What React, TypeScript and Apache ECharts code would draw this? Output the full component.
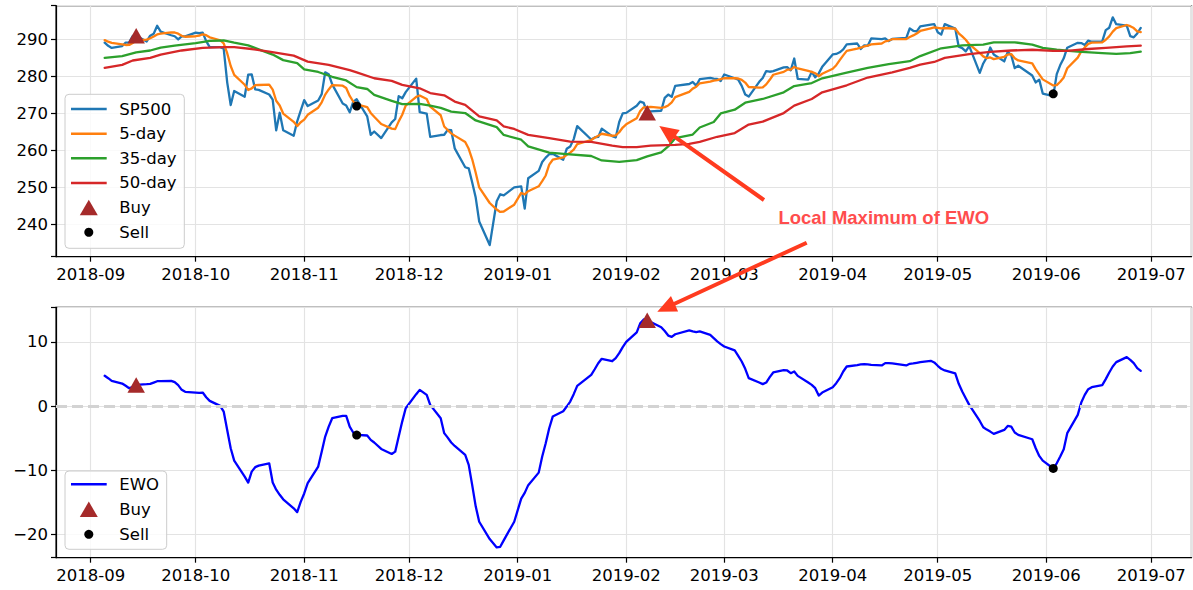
import React, { useEffect, useRef } from 'react';
import * as echarts from 'echarts';

// ---------------- data ----------------
const tradingDays: [string, number[]][] = [
  ['2018-09', [5, 6, 7, 10, 11, 12, 13, 14, 17, 18, 19, 20, 21, 24, 25, 26, 27, 28]],
  ['2018-10', [1, 2, 3, 4, 5, 8, 9, 10, 11, 12, 15, 16, 17, 18, 19, 22, 23, 24, 25, 26, 29, 30, 31]],
  ['2018-11', [1, 2, 5, 6, 7, 8, 9, 12, 13, 14, 15, 16, 19, 20, 21, 23, 26, 27, 28, 29, 30]],
  ['2018-12', [3, 4, 6, 7, 10, 11, 12, 13, 14, 17, 18, 19, 20, 21, 24, 26, 27, 28, 31]],
  ['2019-01', [2, 3, 4, 7, 8, 9, 10, 11, 14, 15, 16, 17, 18, 22, 23, 24, 25, 28, 29, 30, 31]],
  ['2019-02', [1, 4, 5, 6, 7, 8, 11, 12, 13, 14, 15, 19, 20, 21, 22, 25, 26, 27, 28]],
  ['2019-03', [1, 4, 5, 6, 7, 8, 11, 12, 13, 14, 15, 18, 19, 20, 21, 22, 25, 26, 27, 28, 29]],
  ['2019-04', [1, 2, 3, 4, 5, 8, 9, 10, 11, 12, 15, 16, 17, 18, 22, 23, 24, 25, 26, 29, 30]],
  ['2019-05', [1, 2, 3, 6, 7, 8, 9, 10, 13, 14, 15, 16, 17, 20, 21, 22, 23, 24, 28, 29, 30, 31]],
  ['2019-06', [3, 4, 5, 6, 7, 10, 11, 12, 13, 14, 17, 18, 19, 20, 21, 24, 25, 26, 27, 28]],
];
const dates: string[] = tradingDays.flatMap(([m, ds]) => ds.map((d) => `${m}-${String(d).padStart(2, '0')}`));

const sp500 = [
  289.03, 288.16, 287.6, 288.1, 289.05, 289.12, 290.83, 290.88, 289.34, 290.91, 291.44, 293.58, 291.99, 291.02, 290.75, 289.88, 290.69, 290.72,
  291.73, 291.56, 291.72, 289.44, 287.82, 287.82, 287.4, 278.3, 272.17, 275.95, 274.4, 280.4, 280.45, 276.4, 276.25, 275.01, 273.61, 265.32, 270.08, 265.33, 263.86, 267.77, 270.63,
  273.51, 271.89, 273.39, 275.12, 281.01, 280.5, 277.76, 272.57, 272.06, 270.2, 273.02, 273.73, 269.1, 264.12, 265.02, 263.25, 267.5, 268.4, 274.58, 273.98, 275.65,
  279.3, 270.25, 269.84, 263.57, 264.07, 264.13, 265.46, 265.37, 260.47, 255.36, 255.08, 251.26, 247.17, 240.7, 234.34, 246.18, 248.07, 247.75, 249.92,
  250.18, 244.21, 252.39, 254.38, 256.77, 257.97, 258.88, 258.98, 257.4, 260.35, 260.98, 262.96, 266.46, 262.86, 263.41, 263.55, 265.78, 263.76, 263.41, 267.58, 269.93,
  270.06, 271.96, 273.1, 272.74, 270.14, 270.47, 270.62, 274.1, 274.99, 274.38, 277.37, 277.85, 278.41, 277.42, 279.14, 279.52, 279.32, 279.2, 278.68,
  280.42, 279.4, 279.02, 277.33, 275.01, 274.46, 278.44, 279.49, 281.34, 281.16, 281.31, 282.33, 282.4, 281.55, 284.73, 279.25, 279.04, 281.12, 279.65, 280.71, 282.48,
  285.83, 285.97, 286.42, 287.18, 288.57, 288.79, 287.31, 288.29, 288.21, 290.16, 289.97, 290.16, 289.45, 290.02, 290.27, 292.88, 292.23, 292.05, 293.41, 293.87, 294.02,
  291.81, 291.18, 294.03, 292.82, 287.93, 287.53, 286.66, 288.1, 280.86, 283.4, 285.06, 287.7, 285.84, 283.95, 286.51, 285.63, 282.14, 282.78, 280.15, 278.27, 279.03, 275.27,
  274.57, 280.53, 282.96, 284.8, 287.65, 288.97, 288.9, 288.39, 289.58, 289.26, 289.37, 292.4, 293.06, 295.86, 294.0, 293.64, 290.76, 290.47, 291.5, 293.0,
];

const ma5 = [
  289.71, 289.27, 288.98, 288.54, 288.39, 288.41, 288.94, 289.6, 289.84, 290.22, 290.68, 291.23, 291.45, 291.79, 291.76, 291.44, 290.87, 290.61,
  290.75, 290.92, 291.28, 291.03, 290.45, 289.67, 288.84, 286.16, 282.7, 280.33, 277.64, 276.24, 276.67, 277.52, 277.58, 277.7, 276.34, 273.32, 272.05, 269.87, 267.64, 266.47, 267.53,
  268.22, 269.53, 271.44, 272.91, 274.98, 276.38, 277.56, 277.39, 276.78, 274.62, 273.12, 272.32, 271.62, 270.03, 269.0, 267.04, 265.8, 265.66, 267.75, 269.54, 272.02,
  274.38, 274.75, 273.8, 271.72, 269.41, 266.37, 265.41, 264.52, 263.9, 262.16, 260.35, 257.51, 253.87, 249.91, 245.71, 243.93, 243.29, 243.41, 245.25,
  248.42, 248.03, 248.89, 250.22, 251.59, 253.14, 256.08, 257.4, 258.0, 258.72, 259.32, 260.13, 261.63, 262.72, 263.33, 263.85, 264.41, 263.87, 263.98, 264.82, 266.09,
  266.95, 268.59, 270.53, 271.56, 271.6, 271.68, 271.41, 271.61, 272.06, 272.91, 274.29, 275.74, 276.6, 277.09, 278.04, 278.47, 278.76, 278.92, 279.17,
  279.43, 279.4, 279.34, 278.97, 278.24, 277.04, 276.85, 276.95, 277.75, 278.98, 280.35, 281.13, 281.71, 281.75, 282.46, 282.05, 281.39, 281.14, 280.76, 279.95, 280.6,
  281.96, 282.93, 284.28, 285.58, 286.79, 287.39, 287.65, 288.03, 288.23, 288.55, 288.79, 289.36, 289.59, 289.95, 289.97, 290.56, 290.97, 291.49, 292.17, 292.89, 293.12,
  293.03, 292.86, 292.98, 292.77, 291.55, 290.7, 289.79, 288.61, 286.22, 285.31, 284.82, 285.02, 284.57, 285.19, 285.81, 285.93, 284.81, 284.2, 283.44, 281.79, 280.47, 279.1,
  277.46, 277.53, 278.47, 279.63, 282.1, 284.98, 286.66, 287.74, 288.7, 289.02, 289.1, 289.8, 290.73, 291.99, 292.94, 293.79, 293.46, 292.95, 292.07, 291.87,
];

const ewo = [
  4.73, 4.36, 3.95, 3.53, 3.17, 2.8, 2.96, 3.32, 3.43, 3.48, 3.68, 3.89, 3.89, 3.95, 3.74, 3.27, 2.54, 2.23,
  2.12, 2.07, 2.12, 1.4, 0.83, 0.05, -0.84, -3.7, -6.55, -8.48, -10.98, -11.9, -10.2, -9.5, -9.26, -8.9, -11.9, -13.0, -13.8, -14.5, -15.9, -16.5, -14.9,
  -13.6, -12.0, -9.4, -7.1, -4.74, -3.18, -1.88, -1.51, -1.5, -3.18, -4.1, -4.47, -4.57, -5.25, -5.66, -6.66, -7.44, -7.08, -4.74, -2.4, -0.32,
  1.87, 2.54, 1.76, 0.2, -1.88, -4.2, -4.9, -5.66, -6.2, -7.6, -9.15, -12.3, -15.6, -18.0, -20.7, -22.0, -21.9, -20.9, -18.0,
  -14.4, -13.5, -12.3, -10.35, -7.85, -5.78, -3.44, -1.62, -0.79, -0.06, 0.72, 1.87, 3.17, 4.87, 5.75, 6.69, 7.38, 7.0, 7.48, 8.26, 9.2,
  10.0, 11.5, 12.9, 13.5, 13.6, 13.1, 12.3, 11.7, 11.0, 10.8, 11.2, 11.8, 11.64, 11.54, 11.64, 11.1, 10.6, 10.1, 9.67,
  9.3, 8.68, 7.85, 6.96, 5.82, 4.36, 3.68, 3.43, 3.68, 4.52, 5.25, 5.6, 5.56, 5.14, 5.4, 4.72, 3.68, 3.32, 2.8, 1.65, 2.12,
  2.96, 3.58, 4.36, 5.4, 6.18, 6.39, 6.5, 6.55, 6.5, 6.44, 6.34, 6.7, 6.7, 6.65, 6.34, 6.6, 6.65, 6.75, 6.86, 7.07, 6.81,
  6.29, 5.82, 5.56, 5.1, 3.48, 2.28, 1.24, 0.2, -2.3, -3.28, -3.65, -3.96, -4.32, -3.7, -3.07, -3.18, -4.1, -4.47, -5.15, -6.55, -7.75, -8.48,
  -9.7, -8.9, -7.85, -6.7, -4.2, -1.36, 0.56, 1.76, 2.65, 2.96, 3.27, 4.21, 5.25, 6.18, 6.86, 7.64, 7.22, 6.7, 5.92, 5.5,
];

const ma35Dates = [
  '2018-09-05', '2018-09-10', '2018-09-14', '2018-09-18', '2018-09-21', '2018-09-25', '2018-10-01', '2018-10-05', '2018-10-09', '2018-10-12',
  '2018-10-16', '2018-10-19', '2018-10-23', '2018-10-26', '2018-10-30', '2018-11-01', '2018-11-05', '2018-11-09', '2018-11-13', '2018-11-16',
  '2018-11-19', '2018-11-21', '2018-11-26', '2018-11-29', '2018-12-04', '2018-12-07', '2018-12-10', '2018-12-13', '2018-12-17', '2018-12-20',
  '2018-12-26', '2018-12-28', '2019-01-02', '2019-01-04', '2019-01-10', '2019-01-15', '2019-01-22', '2019-01-25', '2019-01-30', '2019-02-04',
  '2019-02-07', '2019-02-11', '2019-02-13', '2019-02-15', '2019-02-20', '2019-02-22', '2019-02-26', '2019-02-28', '2019-03-04', '2019-03-07',
  '2019-03-12', '2019-03-18', '2019-03-21', '2019-03-26', '2019-03-29', '2019-04-05', '2019-04-11', '2019-04-17', '2019-04-23', '2019-04-26',
  '2019-05-02', '2019-05-08', '2019-05-14', '2019-05-17', '2019-05-23', '2019-05-28', '2019-05-31', '2019-06-04', '2019-06-10', '2019-06-17',
  '2019-06-21', '2019-06-25', '2019-06-28',
];
const ma35 = [
  284.9, 285.4, 286.4, 286.9, 287.7, 288.2, 288.9, 289.5, 289.6, 289.0,
  288.3, 287.2, 285.8, 284.3, 283.5, 281.8, 281.1, 279.8, 278.8, 277.0,
  276.5, 274.9, 273.3, 272.4, 272.5, 272.0, 271.4, 270.4, 270.0, 268.0,
  266.2, 264.1, 262.8, 261.0, 259.3, 258.9, 258.4, 257.2, 256.8, 257.3,
  258.3, 259.4, 261.0, 263.2, 264.2, 266.1, 267.6, 269.9, 270.9, 272.8,
  273.8, 275.6, 277.3, 278.1, 279.4, 280.9, 282.2, 283.2, 284.0, 285.4,
  287.5, 288.3, 288.5, 289.1, 289.1, 288.5, 287.6, 287.1, 286.6, 286.2,
  286.0, 286.2, 286.6,
];

const ma50Dates = [
  '2018-09-05', '2018-09-10', '2018-09-13', '2018-09-18', '2018-09-21', '2018-09-27', '2018-10-03', '2018-10-09', '2018-10-12', '2018-10-17',
  '2018-10-22', '2018-10-29', '2018-11-02', '2018-11-08', '2018-11-14', '2018-11-16', '2018-11-21', '2018-11-26', '2018-11-29', '2018-12-04',
  '2018-12-07', '2018-12-11', '2018-12-14', '2018-12-17', '2018-12-21', '2018-12-26', '2018-12-28', '2018-12-31', '2019-01-04', '2019-01-10',
  '2019-01-16', '2019-01-22', '2019-01-28', '2019-01-31', '2019-02-04', '2019-02-08', '2019-02-15', '2019-02-19', '2019-02-22', '2019-02-27',
  '2019-03-04', '2019-03-08', '2019-03-12', '2019-03-18', '2019-03-21', '2019-03-26', '2019-03-29', '2019-04-05', '2019-04-11', '2019-04-18',
  '2019-04-23', '2019-04-26', '2019-04-30', '2019-05-03', '2019-05-10', '2019-05-16', '2019-05-22', '2019-05-28', '2019-06-03', '2019-06-07',
  '2019-06-13', '2019-06-18', '2019-06-24', '2019-06-28',
];
const ma50 = [
  282.2, 283.0, 284.2, 284.9, 285.8, 286.9, 287.6, 287.8, 287.8, 287.3,
  286.6, 285.5, 283.9, 283.0, 281.6, 281.0, 279.4, 278.7, 277.6, 276.7,
  275.4, 274.8, 273.1, 272.2, 269.1, 268.0, 266.4, 265.7, 264.1, 263.2,
  262.3, 262.2, 261.2, 260.8, 260.8, 261.2, 261.4, 261.7, 262.2, 263.6,
  264.6, 266.9, 267.7, 270.0, 272.0, 273.8, 275.6, 277.5, 279.6, 281.0,
  282.2, 283.1, 283.8, 284.9, 285.9, 286.5, 286.9, 287.1, 286.8, 286.8,
  287.3, 287.6, 288.0, 288.2,
];

const buyDates = ['2018-09-14', '2019-02-07'];
const buyPrice = [290.9, 270.1];
const buyEwo = [3.3, 13.4];
const sellDates = ['2018-11-16', '2019-06-03'];
const sellPrice = [271.9, 275.2];
const sellEwo = [-4.5, -9.7];

const topLegendNames = ['SP500', '5-day', '35-day', '50-day', 'Buy', 'Sell'];
const bottomLegendNames = ['EWO', 'Buy', 'Sell'];

// ---------------- styling ----------------
const FONT = 'DejaVu Sans';
const C_SP = '#1f77b4';
const C_MA5 = '#ff7f0e';
const C_MA35 = '#2ca02c';
const C_MA50 = '#d62728';
const C_EWO = '#0000ff';
const C_BUY = '#a52a2a';
const C_SELL = '#000000';

function monthLabel(v: number): string {
  const d = new Date(v);
  if (d.getDate() !== 1 || d.getHours() !== 0 || d.getMinutes() !== 0) return '';
  return `${d.getFullYear()}-${String(d.getMonth() + 1).padStart(2, '0')}`;
}
function yLabel(step: number) {
  return (v: number) => {
    const r = Math.round(v / step) * step;
    if (Math.abs(r - v) > 1e-6) return '';
    return r < 0 ? '\u2212' + Math.abs(r) : String(r);
  };
}
function arrowPoints(tail: number[], tip: number[], half = 2, headLen = 19, headHalf = 8.5) {
  const dx = tip[0] - tail[0];
  const dy = tip[1] - tail[1];
  const L = Math.hypot(dx, dy);
  const ux = dx / L, uy = dy / L;
  const nx = -uy, ny = ux;
  const bx = tip[0] - ux * headLen, by = tip[1] - uy * headLen;
  return [
    [tail[0] + nx * half, tail[1] + ny * half],
    [bx + nx * half, by + ny * half],
    [bx + nx * headHalf, by + ny * headHalf],
    [tip[0], tip[1]],
    [bx - nx * headHalf, by - ny * headHalf],
    [bx - nx * half, by - ny * half],
    [tail[0] - nx * half, tail[1] - ny * half],
  ];
}

const X_MIN = new Date(2018, 7, 22, 2, 10).getTime();
const X_MAX = new Date(2019, 6, 12, 12, 0).getTime();

function makeXAxis(gridIndex: number) {
  return {
    type: 'time',
    gridIndex,
    min: X_MIN,
    max: X_MAX,
    splitNumber: 11,
    minInterval: 28 * 86400000,
    maxInterval: 31 * 86400000,
    axisLine: { show: true, onZero: false, lineStyle: { color: '#000', width: 1.2 } },
    axisTick: { show: true, length: 5, lineStyle: { color: '#000', width: 1.2 } },
    axisLabel: { formatter: monthLabel, fontFamily: FONT, fontSize: 16.5, color: '#000', margin: 9, hideOverlap: false },
    splitLine: { show: true, lineStyle: { color: '#e3e3e3', width: 1.2 } },
  };
}
function makeYAxis(gridIndex: number, min: number, max: number, splitNumber: number) {
  return {
    type: 'value',
    gridIndex,
    min,
    max,
    splitNumber,
    axisLine: { show: true, onZero: false, lineStyle: { color: '#000', width: 1.2 } },
    axisTick: { show: true, length: 5, lineStyle: { color: '#000', width: 1.2 } },
    axisLabel: { formatter: yLabel(10), fontFamily: FONT, fontSize: 16.5, color: '#000', margin: 8 },
    splitLine: { show: true, lineStyle: { color: '#e3e3e3', width: 1.2 } },
  };
}
function lineSeries(name: string, x: number, data: any[], color: string, width = 2.3, z = 2) {
  return {
    name,
    type: 'line',
    xAxisIndex: x,
    yAxisIndex: x,
    data,
    showSymbol: false,
    symbol: 'none',
    z,
    itemStyle: { color },
    lineStyle: { color, width, cap: 'round', join: 'round' },
  };
}

// manual legend (matplotlib look)
const handleColor: Record<string, string> = {
  SP500: C_SP, '5-day': C_MA5, '35-day': C_MA35, '50-day': C_MA50, EWO: C_EWO,
};
function legendGraphics(names: string[], box: { x: number; y: number; w: number; h: number }, firstY: number, step: number) {
  const els: any[] = [
    {
      type: 'rect', z: 30, silent: true,
      shape: { x: box.x, y: box.y, width: box.w, height: box.h, r: 4 },
      style: { fill: 'rgba(255,255,255,0.8)', stroke: '#cccccc', lineWidth: 1 },
    },
  ];
  names.forEach((name, i) => {
    const y = firstY + i * step;
    const cx = 88.8;
    if (name === 'Buy') {
      els.push({
        type: 'polygon', z: 31, silent: true,
        shape: { points: [[cx, y - 7.75], [cx + 9, y + 7.75], [cx - 9, y + 7.75]] },
        style: { fill: C_BUY },
      });
    } else if (name === 'Sell') {
      els.push({ type: 'circle', z: 31, silent: true, shape: { cx, cy: y, r: 4.5 }, style: { fill: C_SELL } });
    } else {
      els.push({
        type: 'line', z: 31, silent: true,
        shape: { x1: 71, y1: y, x2: 106.7, y2: y },
        style: { stroke: handleColor[name], lineWidth: 2.5 },
      });
    }
    els.push({
      type: 'text', z: 31, silent: true, x: 119.3, y,
      style: {
        text: name, fill: '#000', fontFamily: FONT, fontSize: 16.5,
        align: 'left', verticalAlign: 'middle', textAlign: 'left', textVerticalAlign: 'middle',
      },
    });
  });
  return els;
}

export default function App() {
  const ref = useRef<HTMLDivElement>(null);
  useEffect(() => {
    if (!ref.current) return;
    const chart = echarts.init(ref.current, null, { renderer: 'svg' });
    const pair = (ds: string[], vs: number[]) => ds.map((d, i) => [d, vs[i]]);

    const option: any = {
      animation: false,
      grid: [
        { left: 56, top: 5.7, width: 1135.5, height: 251, show: true, borderColor: '#000', borderWidth: 1.2 },
        { left: 56, top: 307.3, width: 1135.5, height: 250.4, show: true, borderColor: '#000', borderWidth: 1.2 },
      ],
      xAxis: [makeXAxis(0), makeXAxis(1)],
      yAxis: [makeYAxis(0, 231.2, 299.0, 7), makeYAxis(1, -23.6, 15.4, 4)],
      series: [
        lineSeries('SP500', 0, pair(dates, sp500), C_SP),
        lineSeries('5-day', 0, pair(dates, ma5), C_MA5),
        lineSeries('35-day', 0, pair(ma35Dates, ma35), C_MA35),
        lineSeries('50-day', 0, pair(ma50Dates, ma50), C_MA50),
        {
          name: 'Buy', type: 'scatter', xAxisIndex: 0, yAxisIndex: 0, z: 5,
          symbol: 'triangle', symbolSize: [17.5, 15.5], itemStyle: { color: C_BUY, opacity: 1 },
          data: pair(buyDates, buyPrice),
        },
        {
          name: 'Sell', type: 'scatter', xAxisIndex: 0, yAxisIndex: 0, z: 5,
          symbol: 'circle', symbolSize: 9, itemStyle: { color: C_SELL, opacity: 1 },
          data: pair(sellDates, sellPrice),
        },
        {
          ...lineSeries('EWO', 1, pair(dates, ewo), C_EWO, 2.3, 3),
          markLine: {
            silent: true, symbol: ['none', 'none'], label: { show: false },
            lineStyle: { color: '#d3d3d3', width: 3, type: [11, 5], opacity: 1 },
            emphasis: { disabled: true },
            data: [{ yAxis: 0 }],
          },
        },
        {
          name: 'Buy', type: 'scatter', xAxisIndex: 1, yAxisIndex: 1, z: 5,
          symbol: 'triangle', symbolSize: [17.5, 15.5], itemStyle: { color: C_BUY, opacity: 1 },
          data: pair(buyDates, buyEwo),
        },
        {
          name: 'Sell', type: 'scatter', xAxisIndex: 1, yAxisIndex: 1, z: 5,
          symbol: 'circle', symbolSize: 9, itemStyle: { color: C_SELL, opacity: 1 },
          data: pair(sellDates, sellEwo),
        },
      ],
      graphic: [
        ...legendGraphics(topLegendNames, { x: 65, y: 94.3, w: 119.3, h: 154 }, 109, 24.65),
        ...legendGraphics(bottomLegendNames, { x: 65, y: 471, w: 101.7, h: 78.3 }, 484.3, 25),
        {
          type: 'polygon', z: 40, silent: true,
          shape: { points: arrowPoints([764, 200], [659.3, 126]) },
          style: { fill: '#ff3b1f' },
        },
        {
          type: 'polygon', z: 40, silent: true,
          shape: { points: arrowPoints([806.7, 242.7], [657.3, 311.7]) },
          style: { fill: '#ff3b1f' },
        },
        {
          type: 'text', z: 40, silent: true, x: 883.8, y: 217,
          style: {
            text: 'Local Maximum of EWO', fill: '#ff4d4d',
            fontFamily: '"Liberation Sans", Arial, sans-serif', fontWeight: 'bold', fontSize: 18.5,
            align: 'center', verticalAlign: 'middle', textAlign: 'center', textVerticalAlign: 'middle',
          },
        },
      ],
    };
    chart.setOption(option);
    return () => chart.dispose();
  }, []);
  return <div ref={ref} style={{ position: 'absolute', left: 0, top: 0, width: 1193, height: 590 }} />;
}
